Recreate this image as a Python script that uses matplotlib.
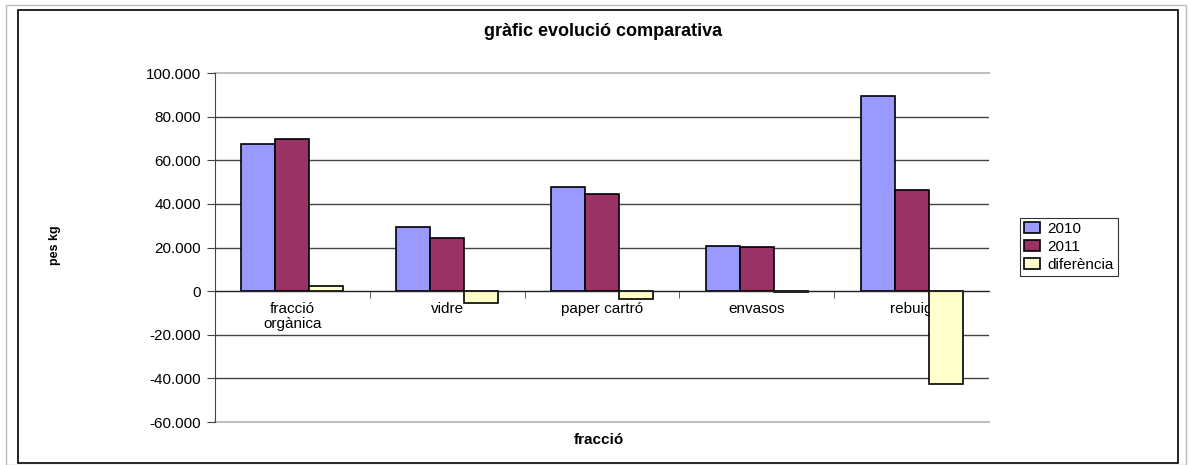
import numpy as np
import matplotlib.pyplot as plt
from matplotlib.patches import Rectangle
from matplotlib.ticker import FuncFormatter

plt.rcParams['font.family'] = ['Liberation Sans', 'DejaVu Sans']

# data (kg)
categories = ["fracció\norgànica", "vidre", "paper cartró", "envasos", "rebuig"]
kg_2010 = [67500, 29500, 47800, 20600, 89300]
kg_2011 = [69800, 24200, 44400, 20300, 46500]
diferencia = [2300, -5300, -3400, -300, -42800]
series_names = ["2010", "2011", "diferència"]
colors = ["#9999FF", "#993366", "#FFFFCC"]

fig = plt.figure(figsize=(11.91, 4.65), dpi=100)

# outer frames
fig.patches.append(Rectangle((6/1191, 0), 1180/1191, 460/465, transform=fig.transFigure,
                             fill=False, edgecolor="#bbbbbb", linewidth=1))
fig.patches.append(Rectangle((18/1191, 2/465), 1160/1191, 453/465, transform=fig.transFigure,
                             fill=False, edgecolor="black", linewidth=1.2))

ax = fig.add_axes([215/1191, 1 - 422/465, 774/1191, 349/465])

x = np.arange(len(categories))
w = 0.22
for k, (vals, name, col) in enumerate(zip([kg_2010, kg_2011, diferencia], series_names, colors)):
    ax.bar(x + (k - 1) * w, vals, width=w, color=col, edgecolor="black",
           linewidth=1.2, label=name, zorder=3)

ax.set_xlim(-0.5, len(categories) - 0.5)
ax.set_ylim(-60000, 100000)
yt = np.arange(-60000, 100001, 20000)
ax.set_yticks(yt)
ax.yaxis.set_major_formatter(FuncFormatter(lambda v, p: f"{int(v):,}".replace(",", ".")))
# inner gridlines dark, plot area top/bottom edges light grey
for v in yt[1:-1]:
    ax.axhline(v, color="#444444", linewidth=1, zorder=1)
ax.axhline(yt[0], color="#c0c0c0", linewidth=1.5, zorder=1, clip_on=False)
ax.axhline(yt[-1], color="#c0c0c0", linewidth=1.5, zorder=1, clip_on=False)

ax.spines["top"].set_visible(False)
ax.spines["right"].set_visible(False)
ax.spines["left"].set_color("#444444")
ax.spines["bottom"].set_position(("data", 0))
ax.spines["bottom"].set_color("#222222")
ax.spines["bottom"].set_zorder(4)

ax.set_xticks(x)
ax.set_xticklabels(categories, fontsize=11, linespacing=1.1)
ax.set_xticks(np.arange(0.5, len(categories) - 0.5, 1), minor=True)
ax.tick_params(axis="x", which="major", length=0, pad=8)
ax.tick_params(axis="x", which="minor", length=5, direction="out", color="#444444")
ax.tick_params(axis="y", length=6, direction="out", color="#444444", labelsize=11, pad=4)

fig.text(603/1191, 1 - 31/465, "gràfic evolució comparativa", ha="center", va="center",
         fontsize=13, fontweight="bold")
fig.text(599/1191, 1 - 440/465, "fracció", ha="center", va="center",
         fontsize=11, fontweight="bold")
fig.text(55/1191, 1 - 245/465, "pes kg", ha="center", va="center",
         fontsize=9, fontweight="bold", rotation=90)

leg = ax.legend(loc="center left", bbox_to_anchor=(1012/1191, 1 - 247/465),
                bbox_transform=fig.transFigure, frameon=True, fancybox=False,
                fontsize=11, handlelength=1.0, handleheight=0.7, handletextpad=0.5,
                borderpad=0.3, labelspacing=0.25)
leg.get_frame().set_edgecolor("black")
leg.get_frame().set_linewidth(0.8)

fig.savefig("out.png", dpi=100)
